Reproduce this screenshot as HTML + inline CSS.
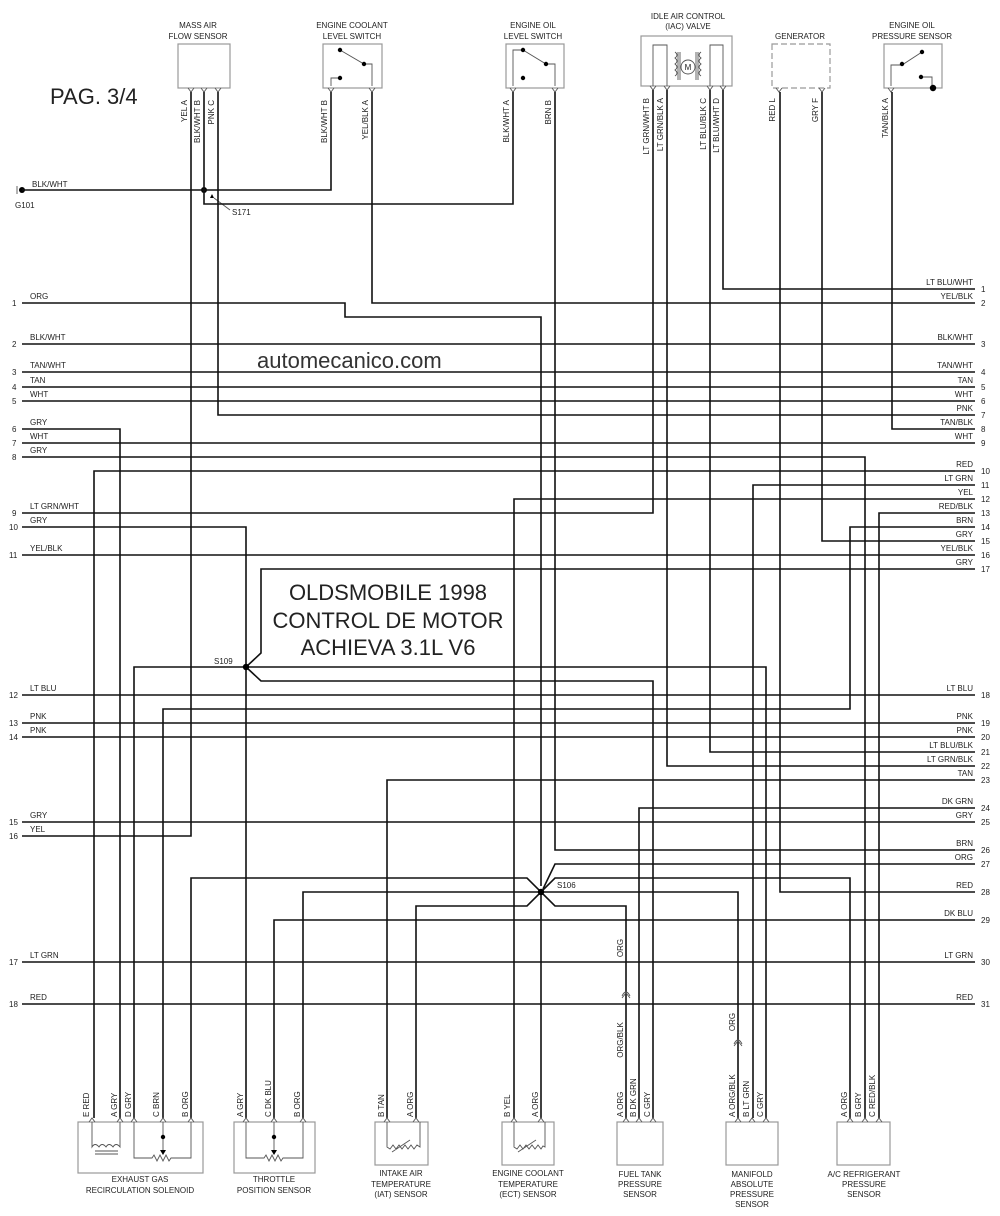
<!DOCTYPE html>
<html><head><meta charset="utf-8"><style>
html,body{margin:0;padding:0;background:#fff}
svg{display:block}
text{font-family:"Liberation Sans",sans-serif;fill:#222}
.s{font-size:8px}
.w{fill:none;stroke:#111;stroke-width:1.6}
.b{fill:none;stroke:#999;stroke-width:1.2}
.t{fill:none;stroke:#555;stroke-width:0.9}
</style></head><body>
<svg width="1000" height="1216" viewBox="0 0 1000 1216" xmlns="http://www.w3.org/2000/svg">
<!-- titles -->
<text x="50" y="104" style="font-size:22px">PAG. 3/4</text>
<text x="257" y="368" style="font-size:22px;fill:#333">automecanico.com</text>
<text x="388" y="600" text-anchor="middle" style="font-size:22px">OLDSMOBILE 1998</text>
<text x="388" y="628" text-anchor="middle" style="font-size:22px">CONTROL DE MOTOR</text>
<text x="388" y="655" text-anchor="middle" style="font-size:22px">ACHIEVA 3.1L V6</text>

<!-- top components -->
<g class="s" text-anchor="middle">
<text x="198" y="28">MASS AIR</text><text x="198" y="39">FLOW SENSOR</text>
<text x="352" y="28">ENGINE COOLANT</text><text x="352" y="39">LEVEL SWITCH</text>
<text x="533" y="28">ENGINE OIL</text><text x="533" y="39">LEVEL SWITCH</text>
<text x="688" y="19">IDLE AIR CONTROL</text><text x="688" y="29">(IAC) VALVE</text>
<text x="800" y="39">GENERATOR</text>
<text x="912" y="28">ENGINE OIL</text><text x="912" y="39">PRESSURE SENSOR</text>
</g>
<rect class="b" x="178" y="44" width="52" height="44"/>
<rect class="b" x="323" y="44" width="59" height="44"/>
<rect class="b" x="506" y="44" width="58" height="44"/>
<rect class="b" x="641" y="36" width="91" height="50"/>
<rect class="b" x="772" y="44" width="58" height="44" stroke-dasharray="6,3"/>
<rect class="b" x="884" y="44" width="58" height="44"/>
<!-- ECL switch -->
<g class="t"><path d="M340 50 L364 64 L372 64 L372 86 M340 78 L331 78 L331 86"/></g>
<circle cx="340" cy="50" r="2.2"/><circle cx="364" cy="64" r="2.2"/><circle cx="340" cy="78" r="2.2"/>
<!-- EOL switch -->
<g class="t"><path d="M523 50 L513 50 L513 86 M523 50 L546 64 L555 64 L555 86"/></g>
<circle cx="523" cy="50" r="2.2"/><circle cx="546" cy="64" r="2.2"/><circle cx="523" cy="78" r="2.2"/>
<!-- IAC -->
<g class="t"><path d="M653 86 L653 45 L667 45 L667 86 M710 86 L710 45 L723 45 L723 86 M675 52 q4 3 0 6 q4 3 0 6 q4 3 0 6 q4 3 0 6 M701 52 q-4 3 0 6 q-4 3 0 6 q-4 3 0 6 q-4 3 0 6 M678 52 L678 80 M680 52 L680 80 M696 52 L696 80 M698 52 L698 80"/><circle cx="688" cy="67" r="7"/></g>
<text x="688" y="70" text-anchor="middle" style="font-size:8px">M</text>
<!-- EOP -->
<g class="t"><path d="M891 86 L891 65 L902 65 L922 52 M921 77 L932 77 L932 88"/></g>
<circle cx="902" cy="64" r="2.2"/><circle cx="922" cy="52" r="2.2"/><circle cx="921" cy="77" r="2.2"/><circle cx="933" cy="88" r="3.2"/>
<!-- top pin chevrons -->
<g class="t">
<path d="M188 88 l3 4 l3 -4 M201 88 l3 4 l3 -4 M215 88 l3 4 l3 -4 M328 88 l3 4 l3 -4 M369 88 l3 4 l3 -4 M510 88 l3 4 l3 -4 M552 88 l3 4 l3 -4 M650 86 l3 4 l3 -4 M664 86 l3 4 l3 -4 M707 86 l3 4 l3 -4 M720 86 l3 4 l3 -4 M776 88 l3 4 l3 -4 M819 88 l3 4 l3 -4 M888 88 l3 4 l3 -4"/>
</g>
<!-- top pin labels -->
<g class="s">
<text transform="translate(187,100) rotate(-90)" text-anchor="end">YEL   A</text>
<text transform="translate(200,100) rotate(-90)" text-anchor="end">BLK/WHT   B</text>
<text transform="translate(214,100) rotate(-90)" text-anchor="end">PNK   C</text>
<text transform="translate(327,100) rotate(-90)" text-anchor="end">BLK/WHT   B</text>
<text transform="translate(368,100) rotate(-90)" text-anchor="end">YEL/BLK   A</text>
<text transform="translate(509,100) rotate(-90)" text-anchor="end">BLK/WHT   A</text>
<text transform="translate(551,100) rotate(-90)" text-anchor="end">BRN   B</text>
<text transform="translate(649,98) rotate(-90)" text-anchor="end">LT GRN/WHT   B</text>
<text transform="translate(663,98) rotate(-90)" text-anchor="end">LT GRN/BLK   A</text>
<text transform="translate(706,98) rotate(-90)" text-anchor="end">LT BLU/BLK   C</text>
<text transform="translate(719,98) rotate(-90)" text-anchor="end">LT BLU/WHT   D</text>
<text transform="translate(775,98) rotate(-90)" text-anchor="end">RED   L</text>
<text transform="translate(818,98) rotate(-90)" text-anchor="end">GRY   F</text>
<text transform="translate(888,98) rotate(-90)" text-anchor="end">TAN/BLK   A</text>
</g>

<!-- G101 / S171 -->
<circle cx="22" cy="190" r="3"/>
<path class="t" d="M17 186 L17 194"/>
<text class="s" x="32" y="187">BLK/WHT</text>
<text class="s" x="15" y="208">G101</text>
<circle cx="204" cy="190" r="3"/>
<path d="M212 194 l-2 4 l4 0 z"/>
<path class="t" d="M214 198 L230 210"/>
<text class="s" x="232" y="215">S171</text>

<!-- wires -->
<g class="w">
<path d="M22 190 H331 V92"/>
<path d="M204 92 V204 H513 V92"/>
<path d="M191 92 V836 H22"/>
<path d="M218 92 V415 H975"/>
<path d="M372 92 V303 H975"/>
<path d="M22 303 H345 V317 H541 V886"/>
<path d="M555 92 V850 H975"/>
<path d="M653 90 V513 H22"/>
<path d="M667 90 V766 H975"/>
<path d="M710 90 V752 H975"/>
<path d="M723 90 V289 H975"/>
<path d="M780 92 V892 H975"/>
<path d="M822 92 V541 H975"/>
<path d="M892 92 V429 H975"/>
<path d="M22 344 H975"/>
<path d="M22 372 H975"/>
<path d="M22 387 H975"/>
<path d="M22 401 H975"/>
<path d="M22 443 H975"/>
<path d="M22 555 H975"/>
<path d="M22 695 H975"/>
<path d="M22 723 H975"/>
<path d="M22 737 H975"/>
<path d="M22 822 H975"/>
<path d="M22 962 H975"/>
<path d="M22 1004 H975"/>
<path d="M22 429 H120 V1118"/>
<path d="M22 457 H865 V1118"/>
<path d="M22 527 H246 V1118"/>
<path d="M94 1118 V471 H975"/>
<path d="M753 1118 V485 H975"/>
<path d="M514 1118 V499 H975"/>
<path d="M879 1118 V513 H975"/>
<path d="M163 1118 V709 H850 V527 H975"/>
<path d="M975 569 H261 V653 L246 667"/>
<path d="M134 1118 V667 H766 V1118"/>
<path d="M246 667 L261 681 H653 V1118"/>
<path d="M387 1118 V780 H975"/>
<path d="M639 1118 V808 H975"/>
<path d="M975 864 H555 L543 889"/>
<path d="M191 1118 V878 H527 L541 892 L555 878 H850 V1118"/>
<path d="M303 1118 V892 H738 V1118"/>
<path d="M416 1118 V906 H527 L541 892 L555 906 H626 V1118"/>
<path d="M541 892 V1118"/>
<path d="M274 1118 V920 H975"/>
</g>
<circle cx="246" cy="667" r="3.2"/>
<text class="s" x="214" y="664">S109</text>
<circle cx="541" cy="892" r="3.2"/>
<text class="s" x="557" y="888">S106</text>
<!-- inline connectors -->
<g class="t"><path d="M622 998 l4 -5 l4 5 M622 996 q4 -8 8 0 M734 1046 l4 -5 l4 5 M734 1044 q4 -8 8 0"/></g>
<g class="s">
<text transform="translate(623,948) rotate(-90)" text-anchor="middle">ORG</text>
<text transform="translate(623,1040) rotate(-90)" text-anchor="middle">ORG/BLK</text>
<text transform="translate(735,1022) rotate(-90)" text-anchor="middle">ORG</text>
</g>

<!-- row labels left -->
<g class="s">
<text x="12" y="306">1</text><text x="30" y="299">ORG</text>
<text x="12" y="347">2</text><text x="30" y="340">BLK/WHT</text>
<text x="12" y="375">3</text><text x="30" y="368">TAN/WHT</text>
<text x="12" y="390">4</text><text x="30" y="383">TAN</text>
<text x="12" y="404">5</text><text x="30" y="397">WHT</text>
<text x="12" y="432">6</text><text x="30" y="425">GRY</text>
<text x="12" y="446">7</text><text x="30" y="439">WHT</text>
<text x="12" y="460">8</text><text x="30" y="453">GRY</text>
<text x="12" y="516">9</text><text x="30" y="509">LT GRN/WHT</text>
<text x="9" y="530">10</text><text x="30" y="523">GRY</text>
<text x="9" y="558">11</text><text x="30" y="551">YEL/BLK</text>
<text x="9" y="698">12</text><text x="30" y="691">LT BLU</text>
<text x="9" y="726">13</text><text x="30" y="719">PNK</text>
<text x="9" y="740">14</text><text x="30" y="733">PNK</text>
<text x="9" y="825">15</text><text x="30" y="818">GRY</text>
<text x="9" y="839">16</text><text x="30" y="832">YEL</text>
<text x="9" y="965">17</text><text x="30" y="958">LT GRN</text>
<text x="9" y="1007">18</text><text x="30" y="1000">RED</text>
</g>
<!-- row labels right -->
<g class="s">
<g text-anchor="end">
<text x="973" y="285">LT BLU/WHT</text><text x="973" y="299">YEL/BLK</text>
<text x="973" y="340">BLK/WHT</text><text x="973" y="368">TAN/WHT</text>
<text x="973" y="383">TAN</text><text x="973" y="397">WHT</text>
<text x="973" y="411">PNK</text><text x="973" y="425">TAN/BLK</text>
<text x="973" y="439">WHT</text><text x="973" y="467">RED</text>
<text x="973" y="481">LT GRN</text><text x="973" y="495">YEL</text>
<text x="973" y="509">RED/BLK</text><text x="973" y="523">BRN</text>
<text x="973" y="537">GRY</text><text x="973" y="551">YEL/BLK</text>
<text x="973" y="565">GRY</text><text x="973" y="691">LT BLU</text>
<text x="973" y="719">PNK</text><text x="973" y="733">PNK</text>
<text x="973" y="748">LT BLU/BLK</text><text x="973" y="762">LT GRN/BLK</text>
<text x="973" y="776">TAN</text><text x="973" y="804">DK GRN</text>
<text x="973" y="818">GRY</text><text x="973" y="846">BRN</text>
<text x="973" y="860">ORG</text><text x="973" y="888">RED</text>
<text x="973" y="916">DK BLU</text><text x="973" y="958">LT GRN</text>
<text x="973" y="1000">RED</text>
</g>
<text x="981" y="292">1</text><text x="981" y="306">2</text><text x="981" y="347">3</text>
<text x="981" y="375">4</text><text x="981" y="390">5</text><text x="981" y="404">6</text>
<text x="981" y="418">7</text><text x="981" y="432">8</text><text x="981" y="446">9</text>
<text x="981" y="474">10</text><text x="981" y="488">11</text><text x="981" y="502">12</text>
<text x="981" y="516">13</text><text x="981" y="530">14</text><text x="981" y="544">15</text>
<text x="981" y="558">16</text><text x="981" y="572">17</text><text x="981" y="698">18</text>
<text x="981" y="726">19</text><text x="981" y="740">20</text><text x="981" y="755">21</text>
<text x="981" y="769">22</text><text x="981" y="783">23</text><text x="981" y="811">24</text>
<text x="981" y="825">25</text><text x="981" y="853">26</text><text x="981" y="867">27</text>
<text x="981" y="895">28</text><text x="981" y="923">29</text><text x="981" y="965">30</text>
<text x="981" y="1007">31</text>
</g>

<!-- bottom components -->
<rect class="b" x="78" y="1122" width="125" height="51"/>
<rect class="b" x="234" y="1122" width="81" height="51"/>
<rect class="b" x="375" y="1122" width="53" height="43"/>
<rect class="b" x="502" y="1122" width="52" height="43"/>
<rect class="b" x="617" y="1122" width="46" height="43"/>
<rect class="b" x="726" y="1122" width="52" height="43"/>
<rect class="b" x="837" y="1122" width="53" height="43"/>
<g class="t">
<path d="M89 1122 l3 -4 l3 4 M117 1122 l3 -4 l3 4 M131 1122 l3 -4 l3 4 M160 1122 l3 -4 l3 4 M188 1122 l3 -4 l3 4 M243 1122 l3 -4 l3 4 M271 1122 l3 -4 l3 4 M300 1122 l3 -4 l3 4 M384 1122 l3 -4 l3 4 M413 1122 l3 -4 l3 4 M511 1122 l3 -4 l3 4 M538 1122 l3 -4 l3 4 M623 1122 l3 -4 l3 4 M636 1122 l3 -4 l3 4 M650 1122 l3 -4 l3 4 M735 1122 l3 -4 l3 4 M749 1122 l3 -4 l3 4 M763 1122 l3 -4 l3 4 M847 1122 l3 -4 l3 4 M862 1122 l3 -4 l3 4 M876 1122 l3 -4 l3 4"/>
<!-- EGR coil -->
<path d="M92 1122 V1147 q3 -5 7 0 q3 -5 7 0 q3 -5 7 0 q3 -5 7 0 V1122 M95 1151 H118 M95 1154 H118"/>
<!-- EGR pot -->
<path d="M134 1122 V1158 H152 l2 -3 l3 6 l3 -6 l3 6 l3 -6 l3 6 l2 -3 H191 V1122 M163 1122 V1150"/>
<!-- TPS pot -->
<path d="M246 1122 V1158 H264 l2 -3 l3 6 l3 -6 l3 6 l3 -6 l3 6 l2 -3 H303 V1122 M274 1122 V1150"/>
<!-- IAT / ECT thermistors -->
<path d="M387 1122 V1147 l3 2 l3 -4 l3 4 l3 -4 l3 4 l3 -4 l3 4 l3 -4 l3 4 l3 -4 l3 2 V1122 M392 1152 L410 1140"/>
<path d="M514 1122 V1147 l3 2 l3 -4 l3 4 l3 -4 l3 4 l3 -4 l3 4 l3 -4 l3 4 l2 -3 l2 1 V1122 M518 1152 L536 1140"/>
</g>
<circle cx="163" cy="1137" r="2.2"/><path d="M160 1150 l3 5 l3 -5 z"/>
<circle cx="274" cy="1137" r="2.2"/><path d="M271 1150 l3 5 l3 -5 z"/>
<!-- bottom pin labels -->
<g class="s">
<text transform="translate(89,1117) rotate(-90)">E RED</text>
<text transform="translate(117,1117) rotate(-90)">A GRY</text>
<text transform="translate(131,1117) rotate(-90)">D GRY</text>
<text transform="translate(159,1117) rotate(-90)">C BRN</text>
<text transform="translate(188,1117) rotate(-90)">B ORG</text>
<text transform="translate(243,1117) rotate(-90)">A  GRY</text>
<text transform="translate(271,1117) rotate(-90)">C   DK BLU</text>
<text transform="translate(300,1117) rotate(-90)">B  ORG</text>
<text transform="translate(384,1117) rotate(-90)">B    TAN</text>
<text transform="translate(413,1117) rotate(-90)">A    ORG</text>
<text transform="translate(510,1117) rotate(-90)">B    YEL</text>
<text transform="translate(538,1117) rotate(-90)">A    ORG</text>
<text transform="translate(623,1117) rotate(-90)">A  ORG</text>
<text transform="translate(636,1117) rotate(-90)">B  DK GRN</text>
<text transform="translate(650,1117) rotate(-90)">C  GRY</text>
<text transform="translate(735,1117) rotate(-90)">A   ORG/BLK</text>
<text transform="translate(749,1117) rotate(-90)">B  LT GRN</text>
<text transform="translate(763,1117) rotate(-90)">C  GRY</text>
<text transform="translate(847,1117) rotate(-90)">A  ORG</text>
<text transform="translate(861,1117) rotate(-90)">B  GRY</text>
<text transform="translate(875,1117) rotate(-90)">C  RED/BLK</text>
</g>
<g class="s" text-anchor="middle">
<text x="140" y="1182">EXHAUST GAS</text><text x="140" y="1193">RECIRCULATION SOLENOID</text>
<text x="274" y="1182">THROTTLE</text><text x="274" y="1193">POSITION SENSOR</text>
<text x="401" y="1176">INTAKE AIR</text><text x="401" y="1187">TEMPERATURE</text><text x="401" y="1197">(IAT) SENSOR</text>
<text x="528" y="1176">ENGINE COOLANT</text><text x="528" y="1187">TEMPERATURE</text><text x="528" y="1197">(ECT) SENSOR</text>
<text x="640" y="1177">FUEL TANK</text><text x="640" y="1187">PRESSURE</text><text x="640" y="1197">SENSOR</text>
<text x="752" y="1177">MANIFOLD</text><text x="752" y="1187">ABSOLUTE</text><text x="752" y="1197">PRESSURE</text><text x="752" y="1207">SENSOR</text>
<text x="864" y="1177">A/C REFRIGERANT</text><text x="864" y="1187">PRESSURE</text><text x="864" y="1197">SENSOR</text>
</g>
</svg>
</body></html>
